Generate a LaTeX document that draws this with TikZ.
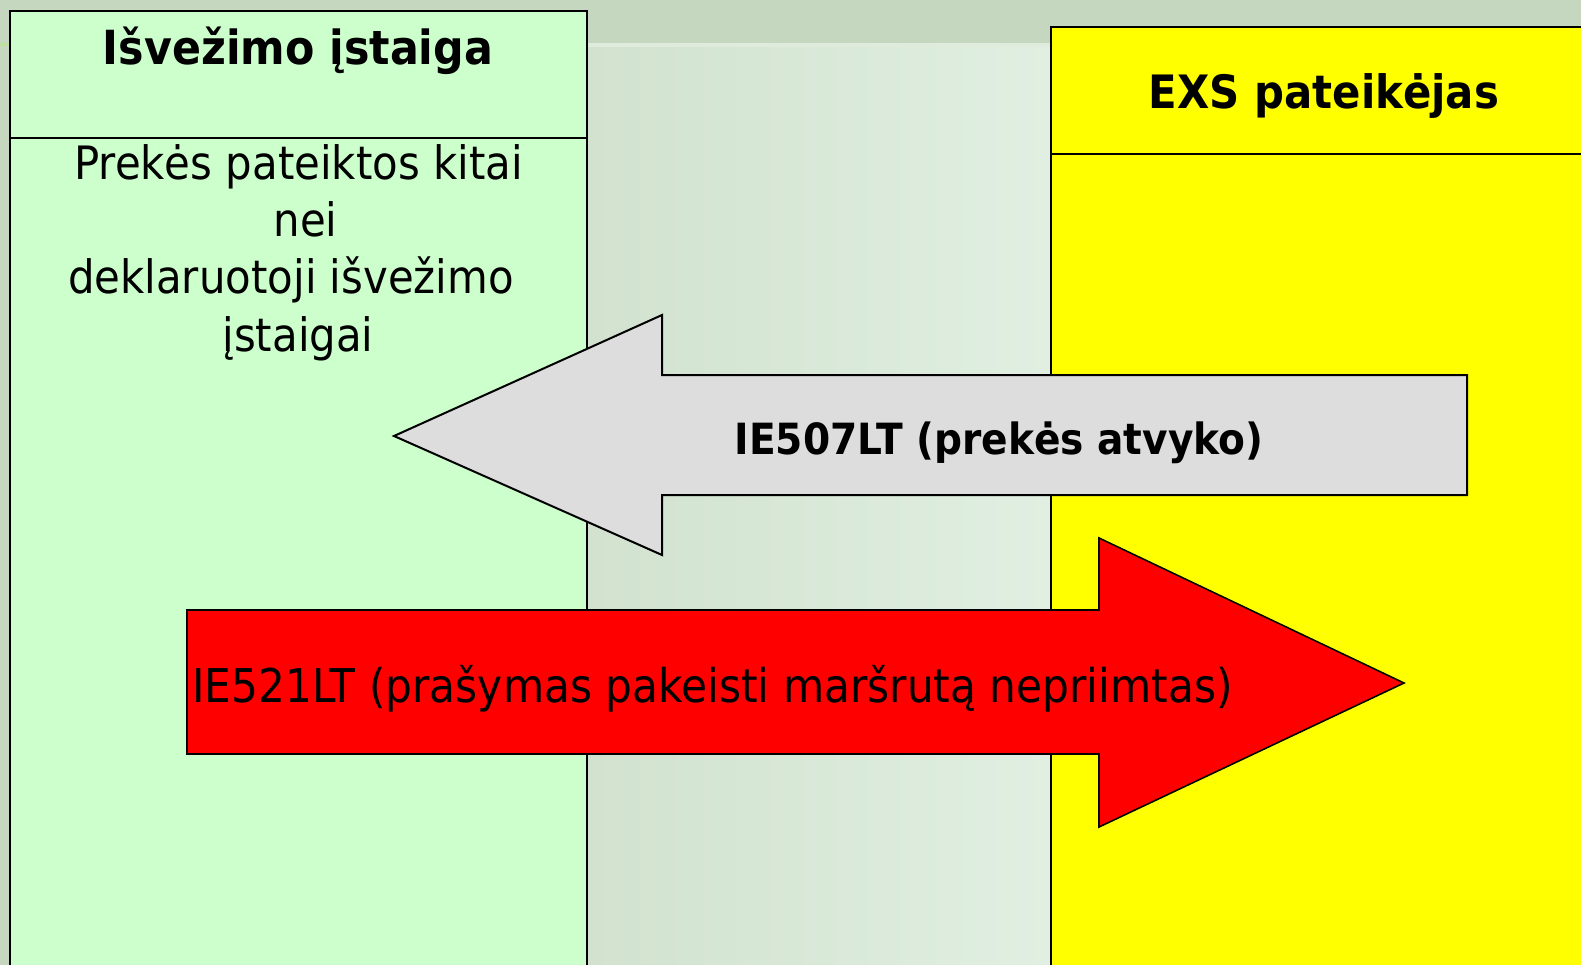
\documentclass[tikz,border=0pt]{standalone}
\usepackage{fontspec}
\newfontfamily\tah[FakeStretch=0.91]{DejaVu Sans}
\definecolor{bgtop}{HTML}{C6D7C0}
\definecolor{gradL}{HTML}{D2E2CF}
\definecolor{gradR}{HTML}{E0EFE1}
\definecolor{lightline}{HTML}{DFEBDD}
\definecolor{edgegreen}{HTML}{BFE09A}
\definecolor{panelgreen}{HTML}{CCFFCC}
\definecolor{panelyellow}{HTML}{FFFF00}
\definecolor{arrowgrey}{HTML}{DDDDDD}
\definecolor{arrowred}{HTML}{FF0000}
\tikzset{
  panel/.style={draw=black, line width=2pt},
  bigarrow/.style={draw=black, line width=2pt, line join=miter},
  titletext/.style={font=\tah\bfseries\fontsize{47}{56}\selectfont, anchor=base, inner sep=0pt},
  bodytext/.style={font=\tah\fontsize{46}{56}\selectfont, anchor=base, inner sep=0pt},
}
\begin{document}
\begin{tikzpicture}[x=1pt,y=-1pt]
\useasboundingbox (0,0) rectangle (1581,965);
\clip (0,0) rectangle (1581,965);
% background
\fill[bgtop] (0,0) rectangle (1581,965);
\shade[left color=gradL, right color=gradR] (587,48) rectangle (1051,965);
\fill[lightline] (587,43.5) rectangle (1051,47.5);
\fill[edgegreen] (0,43.5) rectangle (10,46.5);
% left panel
\draw[panel, fill=panelgreen] (10,11) rectangle (587,990);
\draw[panel] (10,138) -- (587,138);
% right panel
\draw[panel, fill=panelyellow] (1051,27) rectangle (1600,990);
\draw[panel] (1051,154) -- (1600,154);
% texts of panels
\node[titletext] (t1) at (298,65) {Išvežimo įstaiga};
\node[titletext, font=\tah\bfseries\fontsize{46}{56}\selectfont] (t2) at (1324,109) {EXS pateikėjas};
\node[bodytext] (b1) at (298.5,180) {Prekės pateiktos kitai};
\node[bodytext] (b2) at (305.5,237) {nei};
\node[bodytext] (b3) at (291,294) {deklaruotoji išvežimo};
\node[bodytext] (b4) at (298,351) {įstaigai};
% grey arrow
\draw[bigarrow, fill=arrowgrey] (394,436) -- (662,315) -- (662,375) -- (1467,375) -- (1467,495) -- (662,495) -- (662,555) -- cycle;
\node[titletext, font=\tah\bfseries\fontsize{43}{50}\selectfont] (a1) at (999,454) {IE507LT (prekės atvyko)};
% red arrow
\draw[bigarrow, line width=1.6pt, fill=arrowred] (187,610) -- (1099,610) -- (1099,538) -- (1404,683) -- (1099,827) -- (1099,754) -- (187,754) -- cycle;
\node[bodytext, font=\tah\fontsize{46.5}{56}\selectfont, anchor=base west] (a2) at (192,702) {IE521LT (prašymas pakeisti maršrutą nepriimtas)};
\end{tikzpicture}
\end{document}
